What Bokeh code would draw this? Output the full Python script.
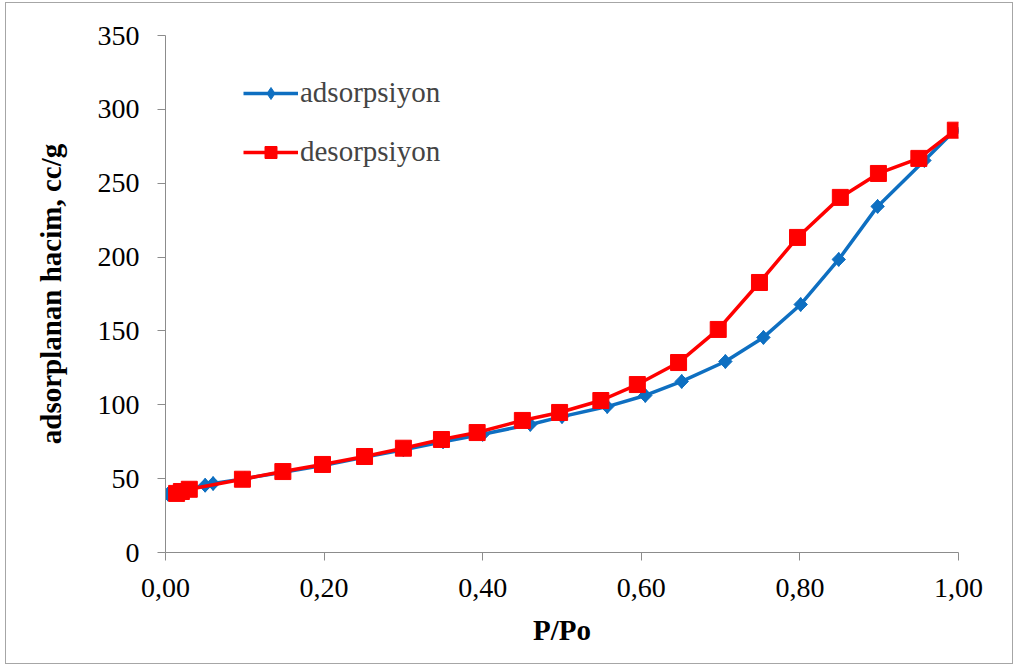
import math
from bokeh.plotting import figure
from bokeh.models import Range1d, FixedTicker, Legend, LegendItem
from bokeh.embed import file_html
from bokeh.resources import INLINE

# Adsorption branch
ads_x = [0.003, 0.05, 0.06, 0.10, 0.15, 0.20, 0.25, 0.30, 0.35, 0.40, 0.46, 0.50,
         0.557, 0.605, 0.651, 0.706, 0.754, 0.801, 0.849, 0.898, 0.957, 0.995]
ads_y = [39.5, 45.5, 46.7, 50.0, 54.5, 59.0, 64.5, 69.5, 75.0, 80.0, 86.7, 92.0,
         98.8, 106.3, 115.8, 129.3, 145.6, 167.9, 198.4, 234.3, 265.4, 285.7]

# Desorption branch
des_x = [0.014, 0.02, 0.03, 0.097, 0.148, 0.198, 0.251, 0.30, 0.348, 0.393, 0.45,
         0.497, 0.549, 0.595, 0.647, 0.697, 0.749, 0.797, 0.851, 0.899, 0.95, 0.996]
des_y = [40.0, 41.3, 42.8, 49.6, 54.8, 59.6, 65.0, 70.6, 76.5, 81.2, 89.4,
         94.8, 102.9, 113.7, 128.6, 151.0, 182.8, 213.3, 240.4, 256.6, 266.8, 285.9]

x_ticks = [0.0, 0.2, 0.4, 0.6, 0.8, 1.0]
x_tick_labels = ["0,00", "0,20", "0,40", "0,60", "0,80", "1,00"]
y_ticks = [0, 50, 100, 150, 200, 250, 300, 350]

series_names = ["adsorpsiyon", "desorpsiyon"]
x_title = "P/Po"
y_title = "adsorplanan hacim, cc/g"

BLUE = "#0E6FC1"
RED = "#FF0000"
AXIS = "#8C8C8C"
FONT = "Liberation Serif"

p = figure(width=1008, height=662, output_backend="svg", toolbar_location=None,
           x_range=Range1d(0, 1), y_range=Range1d(0, 350),
           min_border_left=159, min_border_top=32, min_border_right=56, min_border_bottom=113)
p.styles = {"border": "1px solid #a6a6a6", "margin-left": "5px", "margin-top": "2px"}
p.outline_line_color = None
p.xgrid.grid_line_color = None
p.ygrid.grid_line_color = None

for ax in (p.xaxis[0], p.yaxis[0]):
    ax.axis_line_color = AXIS
    ax.axis_line_width = 1
    ax.major_tick_line_color = AXIS
    ax.major_tick_out = 8
    ax.major_tick_in = 0
    ax.minor_tick_line_color = None
    ax.major_label_text_font = FONT
    ax.major_label_text_font_size = "28px"
    ax.major_label_text_color = "black"
    ax.axis_label_text_font = FONT
    ax.axis_label_text_font_style = "bold"
    ax.axis_label_text_font_size = "29px"
    ax.axis_label_text_color = "black"

p.xaxis.ticker = FixedTicker(ticks=x_ticks)
p.xaxis.major_label_overrides = {t: l for t, l in zip(x_ticks, x_tick_labels)}
p.xaxis.axis_label = x_title
p.xaxis.major_label_standoff = 18
p.xaxis.axis_label_standoff = 14

p.yaxis.ticker = FixedTicker(ticks=y_ticks)
p.yaxis.axis_label = y_title
p.yaxis.major_label_standoff = 18
p.yaxis.axis_label_standoff = 28

l1 = p.line(ads_x, ads_y, line_color=BLUE, line_width=3.5)
# diamond glyph (used for the legend), covered by rotated squares on the plot
m1 = p.scatter(ads_x, ads_y, marker="diamond", size=14, fill_color=BLUE, line_color=BLUE)
p.scatter(ads_x, ads_y, marker="square", angle=math.pi / 4, size=9.5,
          fill_color=BLUE, line_color=BLUE)
l2 = p.line(des_x, des_y, line_color=RED, line_width=3.5)
m2 = p.scatter(des_x, des_y, marker="square", size=16, fill_color=RED, line_color=RED)

legend = Legend(items=[LegendItem(label=series_names[0], renderers=[l1, m1]),
                       LegendItem(label=series_names[1], renderers=[l2, m2])],
                location=(78, 384), glyph_width=55, glyph_height=30, label_height=30,
                spacing=26, padding=0, margin=0, label_standoff=2,
                label_text_font=FONT, label_text_font_size="29px",
                border_line_color=None, background_fill_alpha=0)
p.add_layout(legend)

open("out.html", "w").write(file_html(p, INLINE))
